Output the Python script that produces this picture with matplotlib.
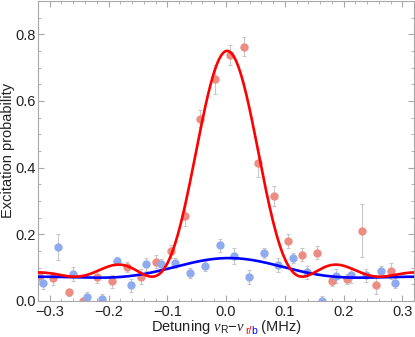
import matplotlib
matplotlib.use('Agg')
import matplotlib.pyplot as plt
import numpy as np
from matplotlib.ticker import MultipleLocator, FuncFormatter

plt.rcParams['font.family'] = ['Liberation Sans', 'DejaVu Sans']
plt.rcParams['mathtext.fontset'] = 'custom'
plt.rcParams['mathtext.it'] = 'Liberation Serif:italic'
plt.rcParams['mathtext.rm'] = 'Liberation Sans'

# red sideband scan (MHz, probability, error)
red_x = [-0.318, -0.294, -0.268, -0.244, -0.219, -0.194, -0.169, -0.144, -0.119,
         -0.094, -0.069, -0.044, -0.019, 0.006, 0.031, 0.055, 0.081, 0.106,
         0.130, 0.155, 0.181, 0.206, 0.231, 0.255, 0.280]
red_y = [0.075, 0.068, 0.026, 0.0, 0.073, 0.059, 0.102, 0.073, 0.118,
         0.149, 0.256, 0.547, 0.665, 0.739, 0.763, 0.413, 0.316, 0.180,
         0.139, 0.145, 0.061, 0.066, 0.211, 0.047, 0.090]
red_err = [0.015, 0.02, 0.01, 0.01, 0.02, 0.02, 0.015, 0.022, 0.02,
           0.02, 0.03, 0.025, 0.044, 0.03, 0.029, 0.042, 0.03, 0.02,
           0.02, 0.02, 0.015, 0.015, 0.08, 0.026, 0.025]

# blue sideband scan
blue_x = [-0.311, -0.286, -0.261, -0.236, -0.211, -0.186, -0.161, -0.136, -0.111,
          -0.086, -0.061, -0.036, -0.011, 0.014, 0.039, 0.064, 0.089, 0.114,
          0.138, 0.163, 0.188, 0.213, 0.238, 0.263, 0.288]
blue_y = [0.055, 0.162, 0.081, 0.013, 0.006, 0.120, 0.047, 0.110, 0.110,
          0.115, 0.084, 0.105, 0.167, 0.135, 0.072, 0.143, 0.108, 0.130,
          0.086, 0.0, 0.075, 0.078, 0.077, 0.090, 0.053]
blue_err = [0.02, 0.039, 0.02, 0.015, 0.015, 0.012, 0.02, 0.02, 0.015,
            0.015, 0.015, 0.015, 0.02, 0.025, 0.02, 0.015, 0.02, 0.015,
            0.02, 0.015, 0.02, 0.025, 0.02, 0.015, 0.015]

# Rabi lineshape fit parameters: (center, rabi freq, pulse time, amplitude, offset)
red_fit = (0.002, 0.025, 7.67, 2.11, 0.073)
blue_fit = (0.005, 0.01, 4.5, 2.96, 0.070)


def rabi(d, center, omega, t, amp, offset):
    w2 = omega**2 + (d - center)**2
    return offset + amp * omega**2 / w2 * np.sin(np.pi * t * np.sqrt(w2))**2


fig = plt.figure(figsize=(4.15, 3.37), dpi=100)
ax = fig.add_axes([38/415, 36/337, 376/415, 300/337])

det = np.linspace(-0.32, 0.32, 600)
ax.errorbar(red_x, red_y, yerr=red_err, fmt='o', ms=5, color='#EC8C82',
            ecolor='#C8C8C8', elinewidth=0.8, capsize=1.5, capthick=0.8, zorder=2)
ax.errorbar(blue_x, blue_y, yerr=blue_err, fmt='o', ms=5, color='#8FAAEE',
            ecolor='#C8C8C8', elinewidth=0.8, capsize=1.5, capthick=0.8, zorder=2)
ax.plot(det, rabi(det, *blue_fit), color='#0000FF', lw=1.9, zorder=3)
ax.plot(det, rabi(det, *red_fit), color='#FF0000', lw=1.9, zorder=3)

ax.set_xlim(-0.32, 0.32)
ax.set_ylim(0, 0.9)
ax.xaxis.set_major_locator(MultipleLocator(0.1))
ax.xaxis.set_minor_locator(MultipleLocator(0.02))
ax.yaxis.set_major_locator(MultipleLocator(0.2))
ax.yaxis.set_minor_locator(MultipleLocator(0.05))
fmt = FuncFormatter(lambda v, p: f'{v:.1f}'.replace('-', '\u2212'))
ax.xaxis.set_major_formatter(fmt)
ax.yaxis.set_major_formatter(fmt)
ax.tick_params(which='both', direction='in', top=True, right=True,
               color='#A8A8A8', labelsize=10.5, labelcolor='#222222')
ax.tick_params(which='major', length=4, width=0.8, pad=3)
ax.tick_params(which='minor', length=2, width=0.6)
ax.tick_params(axis='y', pad=1.5)
for s in ax.spines.values():
    s.set_color('#A8A8A8')
    s.set_linewidth(0.8)

fig.text(8/415, (337 - 150)/337, 'Excitation probability', fontsize=10.5,
         color='#222222', rotation=90, ha='center', va='center')

# x label built from pieces so the subscript can be coloured
fig.canvas.draw()
r = fig.canvas.get_renderer()
base_y = 6 / 337
parts = [(r'Detuning $\nu_{\mathrm{R}}$' + '\u2212' + r'$\nu$', 10.5, '#222222', 0),
         ('r/', 7.5, '#FF0000', -2.5),
         ('b', 7.5, '#0000FF', -2.5),
         (' (MHz)', 10.5, '#222222', 0)]
texts = []
x = 0
for s, size, col, dy in parts:
    t = fig.text(x, base_y + dy / 337, s, fontsize=size, color=col, va='baseline')
    texts.append(t)
    x += t.get_window_extent(r).width / 415
total = x
x0 = (38 + 376 / 2) / 415 - total / 2
x = x0
for t in texts:
    w = t.get_window_extent(r).width / 415
    t.set_x(x)
    x += w

plt.savefig('out.png', dpi=100)
plt.close()
